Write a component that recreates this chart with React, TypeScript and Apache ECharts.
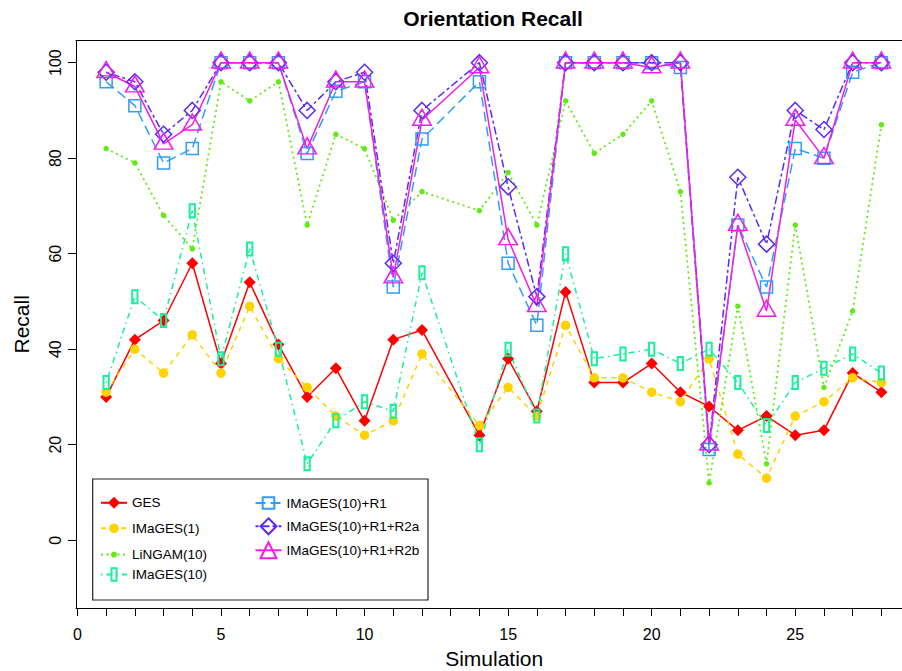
import React, { useEffect, useRef } from "react";
import * as echarts from "echarts";

// Simulation indices (13 is absent in the reference)
const simulations = [1, 2, 3, 4, 5, 6, 7, 8, 9, 10, 11, 12, 14, 15, 16, 17, 18, 19, 20, 21, 22, 23, 24, 25, 26, 27, 28];

const gesValues = [30, 42, 46, 58, 37, 54, 41, 30, 36, 25, 42, 44, 22, 38, 27, 52, 33, 33, 37, 31, 28, 23, 26, 22, 23, 35, 31];
const images1Values = [31, 40, 35, 43, 35, 49, 38, 32, 26, 22, 25, 39, 24, 32, 26, 45, 34, 34, 31, 29, 38, 18, 13, 26, 29, 34, 33];
const lingamValues = [82, 79, 68, 61, 96, 92, 96, 66, 85, 82, 67, 73, 69, 77, 66, 92, 81, 85, 92, 73, 12, 49, 16, 66, 32, 48, 87];
const images10Values = [33, 51, 46, 69, 38, 61, 40, 16, 25, 29, 27, 56, 20, 40, 26, 60, 38, 39, 40, 37, 40, 33, 24, 33, 36, 39, 35];
const r1Values = [96, 91, 79, 82, 100, 100, 100, 81, 94, 96, 53, 84, 96, 58, 45, 100, 100, 100, 100, 99, 19, 66, 53, 82, 80, 98, 100];
const r2aValues = [98, 96, 85, 90, 100, 100, 100, 90, 96, 98, 58, 90, 100, 74, 51, 100, 100, 100, 100, 100, 20, 76, 62, 90, 86, 100, 100];
const r2bValues = [98, 95, 83, 87, 100, 100, 100, 82, 96, 96, 55, 88, 99, 63, 49, 100, 100, 100, 99, 100, 20, 66, 48, 88, 80, 100, 100];

const seriesNames = [
  "GES",
  "IMaGES(1)",
  "LiNGAM(10)",
  "IMaGES(10)",
  "IMaGES(10)+R1",
  "IMaGES(10)+R1+R2a",
  "IMaGES(10)+R1+R2b",
];

const xTickValues = [0, 1, 2, 3, 4, 5, 6, 7, 8, 9, 10, 11, 12, 13, 14, 15, 16, 17, 18, 19, 20, 21, 22, 23, 24, 25, 26, 27, 28];
const xTickLabels = [0, 5, 10, 15, 20, 25];
const yTickLabels = [0, 20, 40, 60, 80, 100];

const FONT = "Liberation Sans";
// narrow rectangle inside a square bounding box (degenerate corner segments keep the box square)
const NARROW_RECT = "path://M0,0 L0.01,0 M4.85,1 L10.15,1 L10.15,14 L4.85,14 Z M15,15 L15.01,15";

type SeriesSpec = {
  name: string;
  values: number[];
  color: string;
  dash: number[] | "solid";
  lineWidth: number;
  symbol: string;
  symbolSize: number | number[];
  filled: boolean;
  borderWidth?: number;
  offset?: number[];
  legendIcon: number; // legend item height (symbol = 80%)
  legendCol: number;
  legendRow: number;
};

function buildSeries(s: SeriesSpec) {
  return {
    name: s.name,
    type: "line",
    xAxisIndex: 0,
    yAxisIndex: 0,
    data: simulations.map((x, i) => [x, s.values[i]]),
    symbol: s.symbol,
    symbolSize: s.symbolSize,
    symbolOffset: s.offset || [0, 0],
    showSymbol: true,
    showAllSymbol: true,
    silent: true,
    lineStyle: { color: s.color, width: s.lineWidth, type: s.dash },
    itemStyle: s.filled
      ? { color: s.color }
      : { color: "rgba(255,255,255,0)", borderColor: s.color, borderWidth: s.borderWidth || 1.5 },
    emphasis: { disabled: true },
  };
}

export default function App() {
  const ref = useRef<HTMLDivElement>(null);

  useEffect(() => {
    if (!ref.current) return;
    const chart = echarts.init(ref.current, null, { renderer: "svg" });

    const specs: SeriesSpec[] = [
      { name: seriesNames[0], values: gesValues, color: "#ff0000", dash: "solid", lineWidth: 1.5, symbol: "diamond", symbolSize: 12, filled: true, legendIcon: 15, legendCol: 0, legendRow: 0 },
      { name: seriesNames[1], values: images1Values, color: "#ffd200", dash: [5, 5], lineWidth: 1.5, symbol: "circle", symbolSize: 9.5, filled: true, legendIcon: 12, legendCol: 0, legendRow: 1 },
      { name: seriesNames[2], values: lingamValues, color: "#62ea14", dash: [2, 3.5], lineWidth: 1.8, symbol: "circle", symbolSize: 5.5, filled: true, legendIcon: 7.5, legendCol: 0, legendRow: 2 },
      { name: seriesNames[3], values: images10Values, color: "#19f09c", dash: [1.5, 4, 6, 4], lineWidth: 1.5, symbol: NARROW_RECT, symbolSize: 15, filled: false, borderWidth: 2, legendIcon: 18, legendCol: 0, legendRow: 3 },
      { name: seriesNames[4], values: r1Values, color: "#2f9dfb", dash: [10, 5], lineWidth: 1.5, symbol: "rect", symbolSize: 12, filled: false, borderWidth: 1.5, legendIcon: 14.5, legendCol: 1, legendRow: 0 },
      { name: seriesNames[5], values: r2aValues, color: "#5a2af2", dash: [3, 3, 8, 3], lineWidth: 1.5, symbol: "diamond", symbolSize: 16, filled: false, borderWidth: 1.5, legendIcon: 20, legendCol: 1, legendRow: 1 },
      { name: seriesNames[6], values: r2bValues, color: "#f01ee6", dash: "solid", lineWidth: 1.5, symbol: "triangle", symbolSize: [18.5, 16], filled: false, borderWidth: 1.5, offset: [0, -2.7], legendIcon: 20, legendCol: 1, legendRow: 2 },
    ];

    const legendLeft = [100, 254.5];
    const legendRowCenter = [503.3, 527.3, 551.3, 575.3];

    const legends = specs.map((s) => ({
      data: [s.name],
      orient: "vertical",
      left: legendLeft[s.legendCol],
      top: legendRowCenter[s.legendRow] - s.legendIcon / 2,
      itemWidth: 26,
      itemHeight: s.legendIcon,
      padding: 0,
      selectedMode: false,
      textStyle: { fontSize: 13.5, color: "#000", fontFamily: FONT },
    }));

    const option = {
      animation: false,
      backgroundColor: "#fff",
      textStyle: { fontFamily: FONT },
      title: {
        text: "Orientation Recall",
        left: 493,
        top: 7.5,
        textAlign: "center",
        padding: 0,
        textStyle: { fontSize: 21, fontWeight: "bold", color: "#000", fontFamily: FONT },
      },
      grid: {
        left: 76,
        top: 40.7,
        width: 836.4,
        height: 567.3,
        show: false,
        containLabel: false,
        outerBoundsMode: "none",
      },
      xAxis: [
        {
          type: "value",
          position: "bottom",
          min: -0.05,
          max: 29.08,
          name: "Simulation",
          nameLocation: "middle",
          nameGap: 40,
          nameTextStyle: { fontSize: 21, lineHeight: 21, color: "#000", fontFamily: FONT },
          axisLine: { show: true, onZero: false, lineStyle: { color: "#000", width: 1 } },
          splitLine: { show: false },
          axisTick: { show: true, length: 8, customValues: xTickValues, lineStyle: { color: "#000", width: 1 } },
          axisLabel: { customValues: xTickLabels, fontSize: 16, color: "#000", margin: 18, fontFamily: FONT },
        },
        {
          type: "value",
          position: "top",
          min: -0.05,
          max: 29.08,
          axisLine: { show: true, onZero: false, lineStyle: { color: "#000", width: 1 } },
          splitLine: { show: false },
          axisTick: { show: false },
          axisLabel: { show: false },
        },
      ],
      yAxis: {
        type: "value",
        min: -14.2,
        max: 104.6,
        name: "Recall",
        nameLocation: "middle",
        nameGap: 44,
        nameTextStyle: { fontSize: 21, color: "#000", fontFamily: FONT },
        axisLine: { show: true, onZero: false, lineStyle: { color: "#000", width: 1 } },
        splitLine: { show: false },
        axisTick: { show: true, length: 8, customValues: yTickLabels, lineStyle: { color: "#000", width: 1 } },
        axisLabel: { customValues: yTickLabels, fontSize: 16, color: "#000", margin: 13, rotate: 90, fontFamily: FONT },
      },
      legend: legends,
      graphic: [
        {
          type: "rect",
          silent: true,
          z: 10,
          shape: { x: 92.7, y: 479, width: 335.3, height: 121 },
          style: { fill: "none", stroke: "#222", lineWidth: 1.2 },
        },
      ],
      series: specs.map(buildSeries),
    };

    chart.setOption(option as any);
    return () => chart.dispose();
  }, []);

  return (
    <div
      ref={ref}
      style={{ position: "absolute", left: 0, top: 0, width: 902, height: 671, background: "#fff" }}
    />
  );
}
